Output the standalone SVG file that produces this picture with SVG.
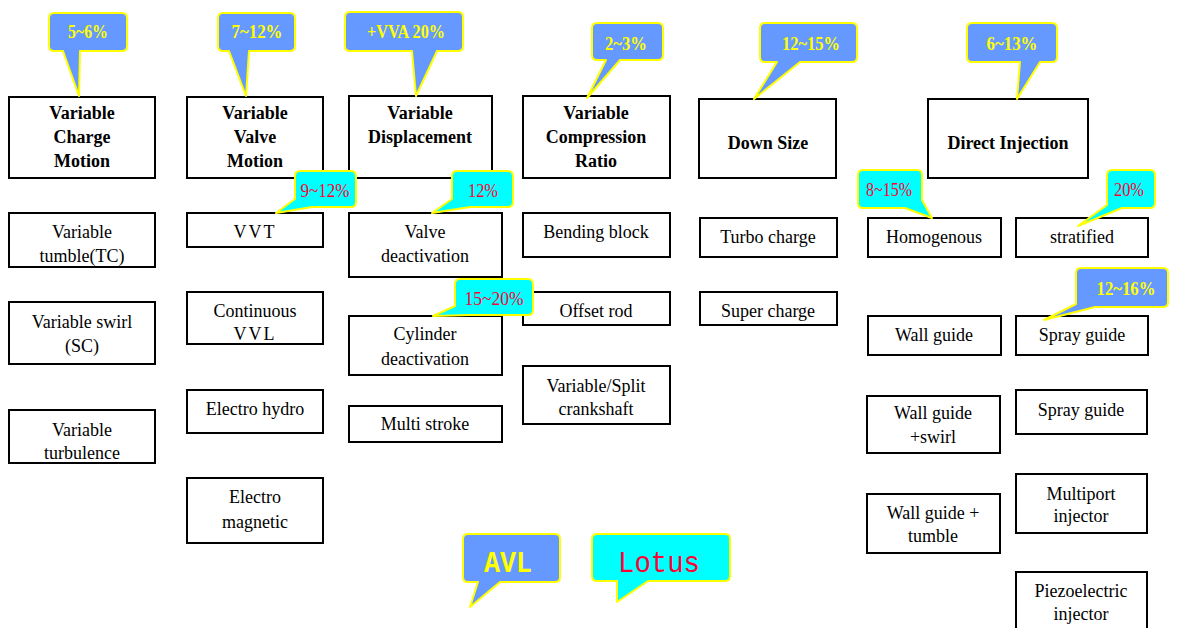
<svg xmlns="http://www.w3.org/2000/svg" width="1178" height="628" viewBox="0 0 1178 628">
  <style>
    .box { fill: #ffffff; stroke: #000000; stroke-width: 2; }
    .t { font-size: 18px; text-anchor: middle; fill: #000000; }
    .h { font-weight: bold; }
    .cb { fill: #6699ff; stroke: #ffff00; stroke-width: 2; stroke-linejoin: round; }
    .cc { fill: #00ffff; stroke: #ffff00; stroke-width: 2; stroke-linejoin: round; }
    .ty { font-size: 19px; font-weight: bold; fill: #ffff00; text-anchor: middle; }
    .tr { font-size: 19px; fill: #ff0033; text-anchor: middle; }
  </style>
  <rect width="1178" height="628" fill="#ffffff"/>

  <g font-family="Liberation Serif, Times New Roman, Times, Tinos, Noto Serif, DejaVu Serif, FreeSerif, serif">
  <!-- Column headers -->
  <g id="variable-charge-motion">
    <rect class="box" x="9" y="97" width="146" height="81"/>
    <text class="t h" x="82" y="119">Variable</text>
    <text class="t h" x="82" y="143">Charge</text>
    <text class="t h" x="82" y="167">Motion</text>
  </g>
  <g id="variable-valve-motion">
    <rect class="box" x="187" y="97" width="136" height="81"/>
    <text class="t h" x="255" y="119">Variable</text>
    <text class="t h" x="255" y="143">Valve</text>
    <text class="t h" x="255" y="167">Motion</text>
  </g>
  <g id="variable-displacement">
    <rect class="box" x="349" y="96" width="143" height="82"/>
    <text class="t h" x="420" y="119">Variable</text>
    <text class="t h" x="420" y="143">Displacement</text>
  </g>
  <g id="variable-compression-ratio">
    <rect class="box" x="523" y="96" width="147" height="82"/>
    <text class="t h" x="596" y="119">Variable</text>
    <text class="t h" x="596" y="143">Compression</text>
    <text class="t h" x="596" y="167">Ratio</text>
  </g>
  <g id="down-size">
    <rect class="box" x="699" y="99" width="137" height="79"/>
    <text class="t h" x="768" y="149">Down Size</text>
  </g>
  <g id="direct-injection">
    <rect class="box" x="928" y="99" width="160" height="79"/>
    <text class="t h" x="1008" y="149">Direct Injection</text>
  </g>

  <!-- Charge motion options -->
  <g id="variable-tumble">
    <rect class="box" x="9" y="213" width="146" height="54"/>
    <text class="t" x="82" y="238">Variable</text>
    <text class="t" x="82" y="262">tumble(TC)</text>
  </g>
  <g id="variable-swirl">
    <rect class="box" x="9" y="302" width="146" height="62"/>
    <text class="t" x="82" y="328">Variable swirl</text>
    <text class="t" x="82" y="352">(SC)</text>
  </g>
  <g id="variable-turbulence">
    <rect class="box" x="9" y="410" width="146" height="53"/>
    <text class="t" x="82" y="436">Variable</text>
    <text class="t" x="82" y="459">turbulence</text>
  </g>

  <!-- Valve motion options -->
  <g id="vvt">
    <rect class="box" x="187" y="213" width="136" height="34"/>
    <text class="t" x="255" y="238" letter-spacing="2">VVT</text>
  </g>
  <g id="continuous-vvl">
    <rect class="box" x="187" y="292" width="136" height="52"/>
    <text class="t" x="255" y="317">Continuous</text>
    <text class="t" x="255" y="340" letter-spacing="2">VVL</text>
  </g>
  <g id="electro-hydro">
    <rect class="box" x="187" y="390" width="136" height="43"/>
    <text class="t" x="255" y="415">Electro hydro</text>
  </g>
  <g id="electro-magnetic">
    <rect class="box" x="187" y="478" width="136" height="65"/>
    <text class="t" x="255" y="503">Electro</text>
    <text class="t" x="255" y="528">magnetic</text>
  </g>

  <!-- Displacement options -->
  <g id="valve-deactivation">
    <rect class="box" x="349" y="213" width="153" height="64"/>
    <text class="t" x="425" y="238">Valve</text>
    <text class="t" x="425" y="262">deactivation</text>
  </g>
  <g id="cylinder-deactivation">
    <rect class="box" x="349" y="316" width="153" height="59"/>
    <text class="t" x="425" y="340">Cylinder</text>
    <text class="t" x="425" y="365">deactivation</text>
  </g>
  <g id="multi-stroke">
    <rect class="box" x="349" y="406" width="153" height="36"/>
    <text class="t" x="425" y="430">Multi stroke</text>
  </g>

  <!-- Compression ratio options -->
  <g id="bending-block">
    <rect class="box" x="523" y="213" width="147" height="44"/>
    <text class="t" x="596" y="238">Bending block</text>
  </g>
  <g id="offset-rod">
    <rect class="box" x="523" y="292" width="147" height="33"/>
    <text class="t" x="596" y="317">Offset rod</text>
  </g>
  <g id="split-crankshaft">
    <rect class="box" x="523" y="366" width="147" height="58"/>
    <text class="t" x="596" y="392">Variable/Split</text>
    <text class="t" x="596" y="415">crankshaft</text>
  </g>

  <!-- Down size options -->
  <g id="turbo-charge">
    <rect class="box" x="700" y="218" width="137" height="39"/>
    <text class="t" x="768" y="243">Turbo charge</text>
  </g>
  <g id="super-charge">
    <rect class="box" x="700" y="292" width="137" height="33"/>
    <text class="t" x="768" y="317">Super charge</text>
  </g>

  <!-- Direct injection options -->
  <g id="homogenous">
    <rect class="box" x="868" y="218" width="133" height="39"/>
    <text class="t" x="934" y="243">Homogenous</text>
  </g>
  <g id="stratified">
    <rect class="box" x="1016" y="218" width="132" height="39"/>
    <text class="t" x="1082" y="243">stratified</text>
  </g>
  <g id="wall-guide">
    <rect class="box" x="868" y="316" width="133" height="39"/>
    <text class="t" x="934" y="341">Wall guide</text>
  </g>
  <g id="spray-guide">
    <rect class="box" x="1016" y="316" width="132" height="39"/>
    <text class="t" x="1082" y="341">Spray guide</text>
  </g>
  <g id="wall-guide-swirl">
    <rect class="box" x="867" y="396" width="133" height="57"/>
    <text class="t" x="933" y="419">Wall guide</text>
    <text class="t" x="933" y="443">+swirl</text>
  </g>
  <g id="spray-guide-2">
    <rect class="box" x="1016" y="390" width="131" height="44"/>
    <text class="t" x="1081" y="416">Spray guide</text>
  </g>
  <g id="wall-guide-tumble">
    <rect class="box" x="867" y="494" width="133" height="59"/>
    <text class="t" x="933" y="519">Wall guide +</text>
    <text class="t" x="933" y="542">tumble</text>
  </g>
  <g id="multiport-injector">
    <rect class="box" x="1016" y="474" width="131" height="59"/>
    <text class="t" x="1081" y="500">Multiport</text>
    <text class="t" x="1081" y="522">injector</text>
  </g>
  <g id="piezoelectric-injector">
    <rect class="box" x="1016" y="572" width="131" height="70"/>
    <text class="t" x="1081" y="597">Piezoelectric</text>
    <text class="t" x="1081" y="620">injector</text>
  </g>

  <!-- Callout bubbles (tails drawn as part of each outline) -->
  <g id="callouts">
    <g id="callout-5-6">
      <path class="cb" d="M54,13 H122 Q127,13 127,18 V46 Q127,51 122,51 H80 L79,96 L63,51 H54 Q49,51 49,46 V18 Q49,13 54,13 Z"/>
      <text class="ty" x="88" y="38" textLength="40" lengthAdjust="spacingAndGlyphs">5~6%</text>
    </g>
    <g id="callout-7-12">
      <path class="cb" d="M223,13 H290 Q295,13 295,18 V46 Q295,51 290,51 H249 L246,96 L229,51 H223 Q218,51 218,46 V18 Q218,13 223,13 Z"/>
      <text class="ty" x="257" y="38" textLength="51" lengthAdjust="spacingAndGlyphs">7~12%</text>
    </g>
    <g id="callout-vva">
      <path class="cb" d="M350,12 H458 Q463,12 463,17 V46 Q463,51 458,51 H437 L416,96 L412,51 H350 Q345,51 345,46 V17 Q345,12 350,12 Z"/>
      <text class="ty" x="406" y="38" textLength="78" lengthAdjust="spacingAndGlyphs">+VVA 20%</text>
    </g>
    <g id="callout-2-3">
      <path class="cb" d="M597,23 H658 Q663,23 663,28 V55 Q663,60 658,60 H620 L587,98 L606,60 H597 Q592,60 592,55 V28 Q592,23 597,23 Z"/>
      <text class="ty" x="626" y="50" textLength="42" lengthAdjust="spacingAndGlyphs">2~3%</text>
    </g>
    <g id="callout-12-15">
      <path class="cb" d="M765,23 H852 Q857,23 857,28 V57 Q857,62 852,62 H800 L754,99 L777,62 H765 Q760,62 760,57 V28 Q760,23 765,23 Z"/>
      <text class="ty" x="811" y="50" textLength="58" lengthAdjust="spacingAndGlyphs">12~15%</text>
    </g>
    <g id="callout-6-13">
      <path class="cb" d="M972,23 H1052 Q1057,23 1057,28 V57 Q1057,62 1052,62 H1040 L1017,99 L1020,62 H972 Q967,62 967,57 V28 Q967,23 972,23 Z"/>
      <text class="ty" x="1012" y="50" textLength="51" lengthAdjust="spacingAndGlyphs">6~13%</text>
    </g>
    <g id="callout-9-12">
      <path class="cc" d="M300,171 H351 Q356,171 356,176 V202 Q356,207 351,207 H312 L276,213 L295,199 V176 Q295,171 300,171 Z"/>
      <text class="tr" x="325" y="197" textLength="49" lengthAdjust="spacingAndGlyphs">9~12%</text>
    </g>
    <g id="callout-12">
      <path class="cc" d="M457,171 H508 Q513,171 513,176 V202 Q513,207 508,207 H470 L432,213 L452,199 V176 Q452,171 457,171 Z"/>
      <text class="tr" x="483" y="197" textLength="30" lengthAdjust="spacingAndGlyphs">12%</text>
    </g>
    <g id="callout-15-20">
      <path class="cc" d="M460,279 H528 Q533,279 533,284 V310 Q533,315 528,315 H470 L433,316 L455,306 V284 Q455,279 460,279 Z"/>
      <text class="tr" x="494" y="305" textLength="59" lengthAdjust="spacingAndGlyphs">15~20%</text>
    </g>
    <g id="callout-8-15">
      <path class="cc" d="M863,170 H917 Q922,170 922,175 V200 L932,218 L905,208 H863 Q858,208 858,203 V175 Q858,170 863,170 Z"/>
      <text class="tr" x="889" y="196" textLength="46" lengthAdjust="spacingAndGlyphs">8~15%</text>
    </g>
    <g id="callout-20">
      <path class="cc" d="M1112,170 H1150 Q1155,170 1155,175 V203 Q1155,208 1150,208 H1122 L1078,226 L1107,205 V175 Q1107,170 1112,170 Z"/>
      <text class="tr" x="1129" y="196" textLength="30" lengthAdjust="spacingAndGlyphs">20%</text>
    </g>
    <g id="callout-12-16">
      <path class="cb" d="M1081,268 H1163 Q1168,268 1168,273 V302 Q1168,307 1163,307 H1095 L1044,320 L1076,304 V273 Q1076,268 1081,268 Z"/>
      <text class="ty" x="1126" y="295" textLength="59" lengthAdjust="spacingAndGlyphs">12~16%</text>
    </g>
    <g id="callout-avl">
      <path class="cb" d="M468,534 H555 Q560,534 560,539 V577 Q560,582 555,582 H500 L470,607 L478,582 H468 Q463,582 463,577 V539 Q463,534 468,534 Z"/>
      <text x="508" y="572" font-family="Liberation Mono, Courier New, monospace" font-size="30" font-weight="bold" fill="#ffff00" text-anchor="middle" textLength="48" lengthAdjust="spacingAndGlyphs">AVL</text>
    </g>
    <g id="callout-lotus">
      <path class="cc" d="M597,534 H725 Q730,534 730,539 V576 Q730,581 725,581 H648 L617,602 L617,581 H597 Q592,581 592,576 V539 Q592,534 597,534 Z"/>
      <text x="659" y="572" font-family="Liberation Mono, Courier New, monospace" font-size="30" fill="#ff0033" text-anchor="middle" textLength="82" lengthAdjust="spacingAndGlyphs">Lotus</text>
    </g>
  </g>
  </g>
</svg>
